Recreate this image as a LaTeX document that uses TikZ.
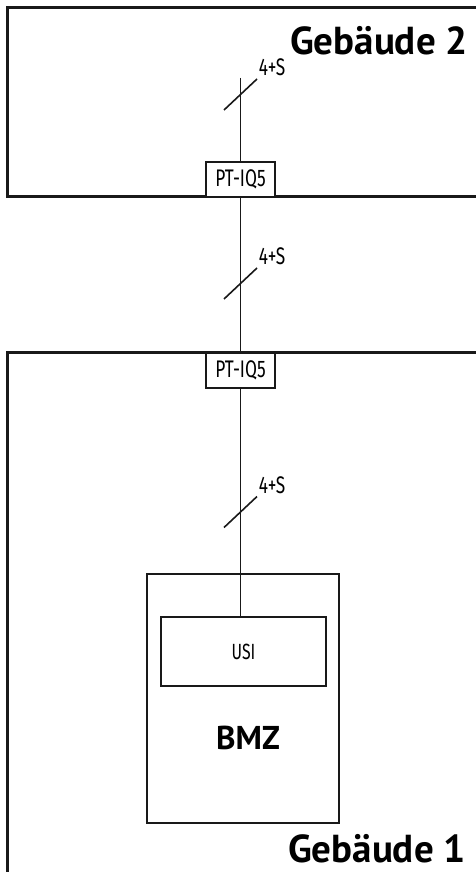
\documentclass[tikz,border=0pt]{standalone}
\usepackage{fontspec}
\setmainfont{Fira Sans}[FakeStretch=0.72]
\newfontfamily\titlefont{PT Sans}
\usetikzlibrary{positioning,calc}

\begin{document}
\begin{tikzpicture}[x=1pt, y=-1pt, line join=miter,
  wall/.style={line width=3pt, draw=black!90},
  wire/.style={line width=1.6pt, draw=black!90},
  devbox/.style={wire, fill=white, minimum width=69pt, minimum height=35pt, inner sep=0pt, font=\fontsize{24}{26}\selectfont},
  tagtext/.style={font=\fontsize{24}{26}\selectfont, inner sep=0pt},
  housename/.style={font=\titlefont\fontsize{39}{41}\selectfont\bfseries, inner sep=0pt, text depth=0pt}]

\useasboundingbox (0,0) rectangle (476,872);
\clip (0,0) rectangle (476,872);

% Buildings
\draw[wall] (7,8) rectangle (480,196);
\draw[wall] (7,352) rectangle (480,880);
\node[housename, anchor=base east] (geb2) at (468,55) {Gebäude 2};
\node[housename, anchor=base east] (geb1) at (466,862) {Gebäude 1};

% BMZ with USI
\node[wire, minimum width=192pt, minimum height=249pt, inner sep=0pt] (bmz) at (243,698.5) {};
\node[housename, font=\titlefont\fontsize{33}{35}\selectfont\bfseries, anchor=center] (bmzlabel) at (248,738) {BMZ};
\node[wire, minimum width=165pt, minimum height=69pt, inner sep=0pt, font=\fontsize{22}{24}\selectfont] (usi) at (243.5,651.5) {USI};

% Transfer points
\node[devbox] (ptoben) at (240.5,179.5) {PT-IQ5};
\node[devbox] (ptunten) at (240.5,370.5) {PT-IQ5};
\coordinate (kabelende) at (240.5,78);

% Cables
\draw[wire] (kabelende) -- (ptoben.north);
\draw[wire] (ptoben.south) -- (ptunten.north);
\draw[wire] (ptunten.south) -- (ptunten.south |- usi.north);

% Wire count marks
\foreach \n/\y in {1/94.5,2/283.5,3/512}{
  \coordinate (mark\n) at (240.5,\y);
  \draw[wire] ([shift={(-16.5,15.5)}]mark\n) -- ([shift={(16.5,-15.5)}]mark\n)
    node[tagtext, anchor=south west, xshift=1pt, yshift=2pt] (adern\n) {4+S};
}

\end{tikzpicture}
\end{document}
